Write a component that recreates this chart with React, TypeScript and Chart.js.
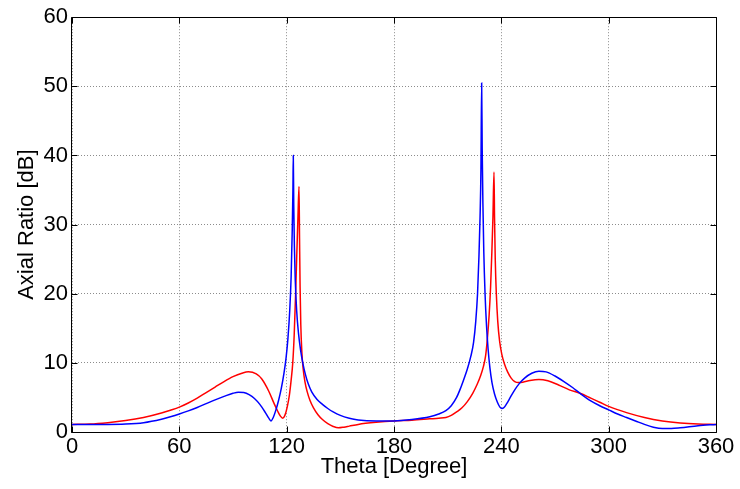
import React, { useEffect, useRef } from "react";
import { Chart, registerables } from "chart.js";

Chart.register(...registerables);

const xTicks = [0, 60, 120, 180, 240, 300, 360];
const yTicks = [0, 10, 20, 30, 40, 50, 60];

const blueTheta = [0, 10, 20, 30, 40, 50, 55, 60, 65, 70, 75, 80, 85, 90, 93, 96, 99, 102, 105, 108, 110, 111.2, 112.5, 114, 115.5, 117, 118.5, 119.7, 120.7, 121.7, 122.5, 123.1, 123.5, 123.7, 123.95, 124.3, 124.8, 125.6, 126.6, 127.8, 129, 130.5, 132, 134, 137, 140, 143, 146, 150, 155, 160, 170, 180, 190, 200, 205, 209, 212, 215, 217, 219, 221, 223, 224.5, 225.7, 226.7, 227.5, 228.1, 228.6, 229, 229.3, 229.7, 230.2, 230.9, 231.7, 232.6, 233.6, 234.8, 236.2, 237.8, 239.2, 240.3, 241.5, 243, 245, 247.5, 250, 253, 257, 261, 265, 270, 275, 280, 284, 290, 295, 300, 305, 310, 315, 320, 325, 330, 335, 340, 350, 360];
const blueAR = [1.1, 1.1, 1.1, 1.15, 1.35, 1.85, 2.2, 2.6, 3.05, 3.55, 4.1, 4.65, 5.15, 5.6, 5.75, 5.7, 5.4, 4.85, 4.0, 2.85, 2.0, 1.6, 2.1, 3.2, 4.6, 6.3, 8.5, 10.8, 13.5, 17.5, 22.5, 29, 35, 40, 33, 27, 22, 17.5, 14.3, 11.8, 10, 8.3, 7.0, 5.8, 4.7, 4.0, 3.4, 2.9, 2.4, 2.0, 1.75, 1.6, 1.6, 1.8, 2.2, 2.6, 3.1, 3.8, 5.0, 6.2, 7.6, 9.1, 11, 13, 16, 20, 25.5, 31, 38, 50.5, 41, 33, 26, 20, 15.5, 12, 9.3, 7.1, 5.5, 4.3, 3.6, 3.4, 3.55, 4.1, 5.0, 6.1, 7.0, 7.8, 8.5, 8.8, 8.7, 8.1, 7.3, 6.4, 5.6, 4.5, 3.8, 3.2, 2.6, 2.1, 1.6, 1.1, 0.7, 0.5, 0.5, 0.6, 0.9, 1.1];

const redTheta = [0, 10, 20, 30, 40, 50, 55, 60, 65, 70, 75, 80, 85, 90, 95, 98.6, 103, 106, 110, 113, 115, 116.5, 117.8, 119, 120.3, 121.5, 122.5, 123.4, 124.2, 125, 125.7, 126.3, 126.9, 127.2, 127.5, 127.9, 128.5, 129.2, 130.2, 131.5, 133, 135, 137.5, 140, 143, 146, 148.9, 152, 155, 160, 170, 180, 190, 200, 205, 209, 212, 215, 218, 221, 224, 226.5, 228.5, 230, 231.2, 232.2, 233.2, 234, 234.7, 235.3, 235.9, 236.2, 236.6, 237.2, 238, 239, 240.3, 241.8, 243.5, 245.5, 247.5, 249.5, 252, 256, 261, 266, 272, 278, 284, 290, 295, 300, 310, 320, 330, 340, 350, 360];
const redAR = [1.1, 1.15, 1.35, 1.65, 2.1, 2.75, 3.15, 3.6, 4.2, 4.9, 5.7, 6.5, 7.3, 8.0, 8.5, 8.7, 8.4, 7.7, 5.9, 4.1, 3.0, 2.3, 2.0, 2.4, 3.6, 5.3, 7.5, 10, 14, 20, 26, 31, 35.5, 28, 21, 15.5, 11.5, 9.2, 7.3, 5.8, 4.6, 3.5, 2.5, 1.8, 1.2, 0.8, 0.6, 0.7, 0.85, 1.1, 1.4, 1.6, 1.7, 1.9, 2.0, 2.1, 2.4, 2.9, 3.5, 4.4, 5.6, 6.9, 8.2, 9.5, 11, 13.5, 17, 21, 26, 31, 37.6, 31, 25, 20, 16, 13.2, 11.2, 9.8, 8.7, 7.8, 7.3, 7.15, 7.2, 7.45, 7.6, 7.4, 6.8, 6.1, 5.6, 4.9, 4.3, 3.7, 2.8, 2.1, 1.6, 1.3, 1.15, 1.1];

const FONT = "'Liberation Sans', Arial, Helvetica, sans-serif";

const boxPlugin = {
  id: "matlabBox",
  afterDraw(chart: any) {
    const { ctx, chartArea } = chart;
    const { left, right, top, bottom } = chartArea;
    const xs = chart.scales.x;
    const ys = chart.scales.y;
    ctx.save();
    ctx.strokeStyle = "#000";
    ctx.lineWidth = 1;
    ctx.setLineDash([]);
    const L = Math.round(left) - 0.5;
    const R = Math.round(right) + 0.5;
    const T = Math.round(top) + 0.5;
    const B = Math.round(bottom) + 0.5;
    ctx.beginPath();
    ctx.rect(L, T, R - L, B - T);
    ctx.stroke();
    const tl = 6;
    ctx.beginPath();
    for (const v of xTicks) {
      const px = Math.round(xs.getPixelForValue(v)) + 0.5;
      ctx.moveTo(px, B);
      ctx.lineTo(px, B - tl);
      ctx.moveTo(px, T);
      ctx.lineTo(px, T + tl);
    }
    for (const v of yTicks) {
      const py = Math.round(ys.getPixelForValue(v)) + 0.5;
      ctx.moveTo(L, py);
      ctx.lineTo(L + tl, py);
      ctx.moveTo(R, py);
      ctx.lineTo(R - tl, py);
    }
    ctx.stroke();
    ctx.restore();
  },
};

export default function App() {
  const ref = useRef<HTMLCanvasElement>(null);
  useEffect(() => {
    document.body.style.margin = "0";
    const toPts = (xs: number[], ys: number[]) => xs.map((x, i) => ({ x, y: ys[i] }));
    const chart = new Chart(ref.current!, {
      type: "line",
      data: {
        datasets: [
          {
            label: "blue",
            data: toPts(blueTheta, blueAR),
            borderColor: "#0000ff",
            borderWidth: 1.5,
            pointRadius: 0,
            cubicInterpolationMode: "monotone",
            fill: false,
          },
          {
            label: "red",
            data: toPts(redTheta, redAR),
            borderColor: "#ff0000",
            borderWidth: 1.5,
            pointRadius: 0,
            cubicInterpolationMode: "monotone",
            fill: false,
          },
        ],
      },
      options: {
        animation: false,
        responsive: false,
        maintainAspectRatio: false,
        layout: { padding: { top: 15, right: 24, left: 0, bottom: 0 } },
        plugins: { legend: { display: false }, tooltip: { enabled: false } },
        scales: {
          x: {
            type: "linear",
            min: 0,
            max: 360,
            afterBuildTicks: (s: any) => {
              s.ticks = xTicks.map((v) => ({ value: v }));
            },
            afterFit: (s: any) => {
              s.height = 57;
            },
            ticks: {
              font: { family: FONT, size: 22 },
              color: "#000",
              padding: 2,
              maxRotation: 0,
              autoSkip: false,
            },
            grid: { color: "#8c8c8c", drawTicks: false, lineWidth: 1 },
            border: { display: false, dash: [1, 2] },
            title: {
              display: true,
              text: "Theta [Degree]",
              font: { family: FONT, size: 22 },
              color: "#000",
              padding: { top: 0, bottom: 9 },
            },
          },
          y: {
            type: "linear",
            min: 0,
            max: 60,
            afterBuildTicks: (s: any) => {
              s.ticks = yTicks.map((v) => ({ value: v }));
            },
            afterFit: (s: any) => {
              s.width = 72;
            },
            ticks: {
              font: { family: FONT, size: 22 },
              color: "#000",
              padding: 4,
              autoSkip: false,
            },
            grid: { color: "#8c8c8c", drawTicks: false, lineWidth: 1 },
            border: { display: false, dash: [1, 2] },
            title: {
              display: true,
              text: "Axial Ratio [dB]",
              font: { family: FONT, size: 22 },
              color: "#000",
              padding: { top: 14, bottom: 0 },
            },
          },
        },
      },
      plugins: [boxPlugin],
    } as any);
    return () => chart.destroy();
  }, []);
  return (
    <div style={{ position: "absolute", left: 0, top: 0, width: 740, height: 489, background: "#fff" }}>
      <canvas ref={ref} width={740} height={489} style={{ width: 740, height: 489, display: "block" }} />
    </div>
  );
}
